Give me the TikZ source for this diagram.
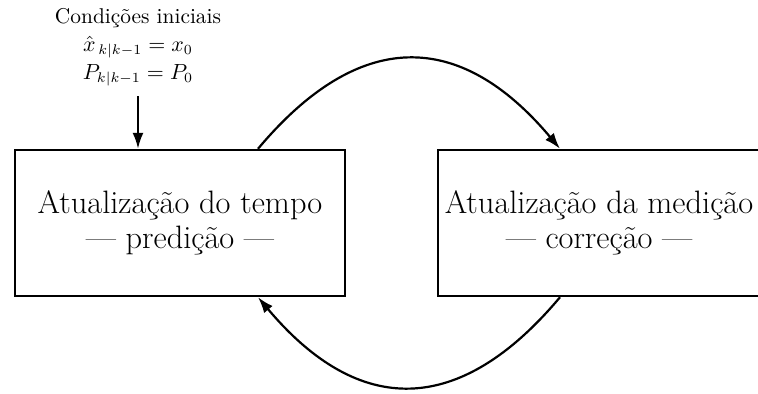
\documentclass[tikz,border=0pt]{standalone}
\usepackage{amsmath}
\usepackage{tikz}
\usetikzlibrary{arrows.meta}
\usetikzlibrary{positioning}
\tikzset{caixa/.style = {draw, line width = 1.2pt, inner sep = 0, minimum height = 73pt, font = \fontsize{16.2}{17.5}\selectfont, align = center}}
\tikzset{seta/.style = {line width = 1.1pt, -{Latex[length = 8pt, width = 5.5pt]}}}

\begin{document}
\begin{tikzpicture}[x = 0.5pt, y = -0.5pt]
      \useasboundingbox (0, 0) rectangle (758, 394);

      \node [caixa, minimum width = 165pt] (pred) at (180, 223) {Atualização do tempo\\--- predição ---};
      \node [caixa, minimum width = 161pt] (corr) at (599, 223) {Atualização da medição\\--- correção ---};
      \node [align = center, inner sep = 0, font = \fontsize{10.7}{14}\selectfont] (init) at (138, 47) {Condições iniciais\\$\hat{x}_{\,k|k-1} = x_0$\\$P_{k|k-1} = P_0$};

      \coordinate (p1) at ([xshift = 39pt] pred.north);
      \coordinate (p2) at ([xshift = 39pt] pred.south);
      \coordinate (c1) at ([xshift = -19.5pt] corr.north);
      \coordinate (c2) at ([xshift = -19.5pt] corr.south);

      \draw [seta] ([yshift = -5pt] init.south) -- (init.south |- pred.north);
      \draw [seta] (p1) to [out = 50, in = 130, looseness = 1.33] (c1);
      \draw [seta] (c2) to [out = -130, in = -50, looseness = 1.33] (p2);
    \end{tikzpicture}
\end{document}
